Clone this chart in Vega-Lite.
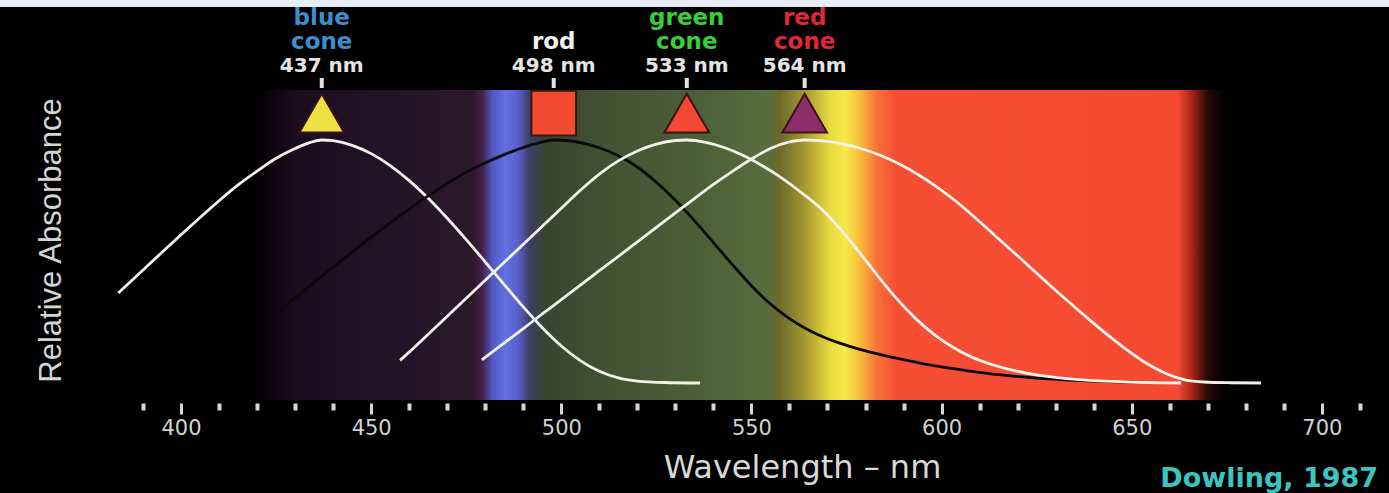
{
  "$schema": "https://vega.github.io/schema/vega-lite/v6.json",
  "width": 1283,
  "height": 310,
  "autosize": {"type": "none"},
  "padding": {"left": 105, "top": 90, "right": 1, "bottom": 93},
  "background": "#000000",
  "config": {"view": {"stroke": null}},
  "datasets": {
    "spectrum": [{"from_nm": 380, "to_nm": 717.4}],
    "header": [{"item": "page header"}],
    "curves": [
      {"receptor": "blue cone", "nm": 383.5, "absorbance": 0.37},
      {"receptor": "blue cone", "nm": 390, "absorbance": 0.465},
      {"receptor": "blue cone", "nm": 395, "absorbance": 0.538},
      {"receptor": "blue cone", "nm": 400, "absorbance": 0.61},
      {"receptor": "blue cone", "nm": 405, "absorbance": 0.681},
      {"receptor": "blue cone", "nm": 410, "absorbance": 0.75},
      {"receptor": "blue cone", "nm": 415, "absorbance": 0.815},
      {"receptor": "blue cone", "nm": 420, "absorbance": 0.872},
      {"receptor": "blue cone", "nm": 425, "absorbance": 0.925},
      {"receptor": "blue cone", "nm": 430, "absorbance": 0.965},
      {"receptor": "blue cone", "nm": 434, "absorbance": 0.99},
      {"receptor": "blue cone", "nm": 437, "absorbance": 1.0},
      {"receptor": "blue cone", "nm": 440, "absorbance": 0.997},
      {"receptor": "blue cone", "nm": 445, "absorbance": 0.978},
      {"receptor": "blue cone", "nm": 450, "absorbance": 0.944},
      {"receptor": "blue cone", "nm": 455, "absorbance": 0.895},
      {"receptor": "blue cone", "nm": 460, "absorbance": 0.833},
      {"receptor": "blue cone", "nm": 465, "absorbance": 0.76},
      {"receptor": "blue cone", "nm": 470, "absorbance": 0.678},
      {"receptor": "blue cone", "nm": 475, "absorbance": 0.59},
      {"receptor": "blue cone", "nm": 480, "absorbance": 0.498},
      {"receptor": "blue cone", "nm": 485, "absorbance": 0.405},
      {"receptor": "blue cone", "nm": 490, "absorbance": 0.313},
      {"receptor": "blue cone", "nm": 495, "absorbance": 0.227},
      {"receptor": "blue cone", "nm": 500, "absorbance": 0.152},
      {"receptor": "blue cone", "nm": 505, "absorbance": 0.092},
      {"receptor": "blue cone", "nm": 510, "absorbance": 0.048},
      {"receptor": "blue cone", "nm": 515, "absorbance": 0.021},
      {"receptor": "blue cone", "nm": 520, "absorbance": 0.008},
      {"receptor": "blue cone", "nm": 527, "absorbance": 0.002},
      {"receptor": "blue cone", "nm": 536.5, "absorbance": 0.0},
      {"receptor": "rod", "nm": 425.5, "absorbance": 0.29},
      {"receptor": "rod", "nm": 430, "absorbance": 0.35},
      {"receptor": "rod", "nm": 435, "absorbance": 0.414},
      {"receptor": "rod", "nm": 440, "absorbance": 0.477},
      {"receptor": "rod", "nm": 445, "absorbance": 0.539},
      {"receptor": "rod", "nm": 450, "absorbance": 0.6},
      {"receptor": "rod", "nm": 455, "absorbance": 0.659},
      {"receptor": "rod", "nm": 460, "absorbance": 0.716},
      {"receptor": "rod", "nm": 465, "absorbance": 0.77},
      {"receptor": "rod", "nm": 470, "absorbance": 0.821},
      {"receptor": "rod", "nm": 475, "absorbance": 0.867},
      {"receptor": "rod", "nm": 480, "absorbance": 0.906},
      {"receptor": "rod", "nm": 485, "absorbance": 0.94},
      {"receptor": "rod", "nm": 490, "absorbance": 0.969},
      {"receptor": "rod", "nm": 494, "absorbance": 0.988},
      {"receptor": "rod", "nm": 498, "absorbance": 1.0},
      {"receptor": "rod", "nm": 502, "absorbance": 0.997},
      {"receptor": "rod", "nm": 506, "absorbance": 0.986},
      {"receptor": "rod", "nm": 510, "absorbance": 0.968},
      {"receptor": "rod", "nm": 515, "absorbance": 0.935},
      {"receptor": "rod", "nm": 520, "absorbance": 0.889},
      {"receptor": "rod", "nm": 525, "absorbance": 0.826},
      {"receptor": "rod", "nm": 530, "absorbance": 0.752},
      {"receptor": "rod", "nm": 535, "absorbance": 0.668},
      {"receptor": "rod", "nm": 540, "absorbance": 0.578},
      {"receptor": "rod", "nm": 545, "absorbance": 0.487},
      {"receptor": "rod", "nm": 550, "absorbance": 0.4},
      {"receptor": "rod", "nm": 555, "absorbance": 0.325},
      {"receptor": "rod", "nm": 560, "absorbance": 0.265},
      {"receptor": "rod", "nm": 565, "absorbance": 0.218},
      {"receptor": "rod", "nm": 570, "absorbance": 0.182},
      {"receptor": "rod", "nm": 575, "absorbance": 0.155},
      {"receptor": "rod", "nm": 580, "absorbance": 0.132},
      {"receptor": "rod", "nm": 585, "absorbance": 0.113},
      {"receptor": "rod", "nm": 590, "absorbance": 0.096},
      {"receptor": "rod", "nm": 595, "absorbance": 0.08},
      {"receptor": "rod", "nm": 600, "absorbance": 0.066},
      {"receptor": "rod", "nm": 607, "absorbance": 0.05},
      {"receptor": "rod", "nm": 615, "absorbance": 0.034},
      {"receptor": "rod", "nm": 625, "absorbance": 0.02},
      {"receptor": "rod", "nm": 635, "absorbance": 0.011},
      {"receptor": "rod", "nm": 651, "absorbance": 0.003},
      {"receptor": "green cone", "nm": 457.6, "absorbance": 0.093},
      {"receptor": "green cone", "nm": 460, "absorbance": 0.127},
      {"receptor": "green cone", "nm": 465, "absorbance": 0.201},
      {"receptor": "green cone", "nm": 470, "absorbance": 0.275},
      {"receptor": "green cone", "nm": 475, "absorbance": 0.349},
      {"receptor": "green cone", "nm": 480, "absorbance": 0.423},
      {"receptor": "green cone", "nm": 485, "absorbance": 0.497},
      {"receptor": "green cone", "nm": 490, "absorbance": 0.571},
      {"receptor": "green cone", "nm": 495, "absorbance": 0.645},
      {"receptor": "green cone", "nm": 500, "absorbance": 0.719},
      {"receptor": "green cone", "nm": 505, "absorbance": 0.793},
      {"receptor": "green cone", "nm": 510, "absorbance": 0.86},
      {"receptor": "green cone", "nm": 515, "absorbance": 0.914},
      {"receptor": "green cone", "nm": 520, "absorbance": 0.955},
      {"receptor": "green cone", "nm": 525, "absorbance": 0.983},
      {"receptor": "green cone", "nm": 530, "absorbance": 0.998},
      {"receptor": "green cone", "nm": 533, "absorbance": 1.0},
      {"receptor": "green cone", "nm": 538, "absorbance": 0.99},
      {"receptor": "green cone", "nm": 543, "absorbance": 0.968},
      {"receptor": "green cone", "nm": 548, "absorbance": 0.935},
      {"receptor": "green cone", "nm": 553, "absorbance": 0.893},
      {"receptor": "green cone", "nm": 558, "absorbance": 0.843},
      {"receptor": "green cone", "nm": 563, "absorbance": 0.785},
      {"receptor": "green cone", "nm": 568, "absorbance": 0.722},
      {"receptor": "green cone", "nm": 573, "absorbance": 0.64},
      {"receptor": "green cone", "nm": 578, "absorbance": 0.545},
      {"receptor": "green cone", "nm": 583, "absorbance": 0.445},
      {"receptor": "green cone", "nm": 588, "absorbance": 0.35},
      {"receptor": "green cone", "nm": 593, "absorbance": 0.268},
      {"receptor": "green cone", "nm": 598, "absorbance": 0.2},
      {"receptor": "green cone", "nm": 603, "absorbance": 0.147},
      {"receptor": "green cone", "nm": 608, "absorbance": 0.106},
      {"receptor": "green cone", "nm": 613, "absorbance": 0.077},
      {"receptor": "green cone", "nm": 618, "absorbance": 0.055},
      {"receptor": "green cone", "nm": 623, "absorbance": 0.039},
      {"receptor": "green cone", "nm": 628, "absorbance": 0.027},
      {"receptor": "green cone", "nm": 633, "absorbance": 0.018},
      {"receptor": "green cone", "nm": 640, "absorbance": 0.01},
      {"receptor": "green cone", "nm": 648, "absorbance": 0.005},
      {"receptor": "green cone", "nm": 663, "absorbance": 0.0},
      {"receptor": "red cone", "nm": 479.1, "absorbance": 0.095},
      {"receptor": "red cone", "nm": 485, "absorbance": 0.165},
      {"receptor": "red cone", "nm": 490, "absorbance": 0.224},
      {"receptor": "red cone", "nm": 495, "absorbance": 0.284},
      {"receptor": "red cone", "nm": 500, "absorbance": 0.343},
      {"receptor": "red cone", "nm": 505, "absorbance": 0.403},
      {"receptor": "red cone", "nm": 510, "absorbance": 0.462},
      {"receptor": "red cone", "nm": 515, "absorbance": 0.521},
      {"receptor": "red cone", "nm": 520, "absorbance": 0.581},
      {"receptor": "red cone", "nm": 525, "absorbance": 0.64},
      {"receptor": "red cone", "nm": 530, "absorbance": 0.7},
      {"receptor": "red cone", "nm": 535, "absorbance": 0.759},
      {"receptor": "red cone", "nm": 540, "absorbance": 0.817},
      {"receptor": "red cone", "nm": 545, "absorbance": 0.871},
      {"receptor": "red cone", "nm": 550, "absorbance": 0.922},
      {"receptor": "red cone", "nm": 555, "absorbance": 0.965},
      {"receptor": "red cone", "nm": 560, "absorbance": 0.992},
      {"receptor": "red cone", "nm": 564, "absorbance": 1.0},
      {"receptor": "red cone", "nm": 569, "absorbance": 0.996},
      {"receptor": "red cone", "nm": 574, "absorbance": 0.984},
      {"receptor": "red cone", "nm": 579, "absorbance": 0.964},
      {"receptor": "red cone", "nm": 584, "absorbance": 0.936},
      {"receptor": "red cone", "nm": 589, "absorbance": 0.9},
      {"receptor": "red cone", "nm": 594, "absorbance": 0.856},
      {"receptor": "red cone", "nm": 599, "absorbance": 0.804},
      {"receptor": "red cone", "nm": 604, "absorbance": 0.745},
      {"receptor": "red cone", "nm": 609, "absorbance": 0.678},
      {"receptor": "red cone", "nm": 614, "absorbance": 0.607},
      {"receptor": "red cone", "nm": 619, "absorbance": 0.537},
      {"receptor": "red cone", "nm": 624, "absorbance": 0.466},
      {"receptor": "red cone", "nm": 629, "absorbance": 0.395},
      {"receptor": "red cone", "nm": 634, "absorbance": 0.326},
      {"receptor": "red cone", "nm": 639, "absorbance": 0.259},
      {"receptor": "red cone", "nm": 644, "absorbance": 0.194},
      {"receptor": "red cone", "nm": 649, "absorbance": 0.133},
      {"receptor": "red cone", "nm": 654, "absorbance": 0.08},
      {"receptor": "red cone", "nm": 659, "absorbance": 0.039},
      {"receptor": "red cone", "nm": 664, "absorbance": 0.013},
      {"receptor": "red cone", "nm": 669, "absorbance": 0.004},
      {"receptor": "red cone", "nm": 676, "absorbance": 0.001},
      {"receptor": "red cone", "nm": 684, "absorbance": 0.0}
    ],
    "receptors": [
      {"receptor": "blue cone", "peak": 437, "name": "blue\ncone", "label": "437 nm"},
      {"receptor": "rod", "peak": 498, "name": "\nrod", "label": "498 nm"},
      {"receptor": "green cone", "peak": 533, "name": "green\ncone", "label": "533 nm"},
      {"receptor": "red cone", "peak": 564, "name": "red\ncone", "label": "564 nm"}
    ],
    "credit": [{"text": "Dowling, 1987"}]
  },
  "layer": [
    {
      "data": {"name": "spectrum"},
      "mark": {
        "type": "rect",
        "fill": {
          "gradient": "linear", "x1": 0, "y1": 0, "x2": 1, "y2": 0,
          "stops": [
            {"offset": 0, "color": "#000000"},
            {"offset": 0.118, "color": "#000000"},
            {"offset": 0.146, "color": "#1a0c1e"},
            {"offset": 0.23, "color": "#241428"},
            {"offset": 0.286, "color": "#2b1729"},
            {"offset": 0.294, "color": "#43204a"},
            {"offset": 0.302, "color": "#5058c4"},
            {"offset": 0.312, "color": "#6470e2"},
            {"offset": 0.322, "color": "#5860cc"},
            {"offset": 0.331, "color": "#3c3e66"},
            {"offset": 0.343, "color": "#39442e"},
            {"offset": 0.401, "color": "#435434"},
            {"offset": 0.464, "color": "#4b6036"},
            {"offset": 0.514, "color": "#566e3e"},
            {"offset": 0.526, "color": "#6a6a2c"},
            {"offset": 0.546, "color": "#a89a30"},
            {"offset": 0.565, "color": "#e8da40"},
            {"offset": 0.577, "color": "#f6ea4a"},
            {"offset": 0.588, "color": "#f8be3c"},
            {"offset": 0.602, "color": "#f87038"},
            {"offset": 0.616, "color": "#f64e34"},
            {"offset": 0.836, "color": "#f44a32"},
            {"offset": 0.847, "color": "#a82618"},
            {"offset": 0.859, "color": "#2a0806"},
            {"offset": 0.873, "color": "#000000"},
            {"offset": 1, "color": "#000000"}
          ]
        }
      },
      "encoding": {
        "x": {"field": "from_nm", "type": "quantitative", "scale": {"domain": [380, 717.4], "nice": false, "zero": false}},
        "x2": {"field": "to_nm"},
        "y": {"datum": 1.2058, "type": "quantitative", "scale": {"domain": [-0.07, 1.2058], "nice": false, "zero": false}},
        "y2": {"datum": -0.07}
      }
    },
    {
      "data": {"name": "header"},
      "mark": {"type": "rect", "fill": "#e9eef4"},
      "encoding": {
        "x": {"datum": 340, "type": "quantitative", "scale": {"domain": [380, 717.4], "nice": false, "zero": false}},
        "x2": {"datum": 730},
        "y": {"datum": 1.6, "type": "quantitative", "scale": {"domain": [-0.07, 1.2058], "nice": false, "zero": false}},
        "y2": {"datum": 1.5474}
      }
    },
    {
      "data": {"name": "curves"},
      "mark": {"type": "line", "interpolate": "monotone", "strokeWidth": 2.8},
      "encoding": {
        "x": {
          "field": "nm", "type": "quantitative",
          "scale": {"domain": [380, 717.4], "nice": false, "zero": false},
          "axis": {
            "values": [390, 400, 410, 420, 430, 440, 450, 460, 470, 480, 490, 500, 510, 520, 530, 540, 550, 560, 570, 580, 590, 600, 610, 620, 630, 640, 650, 660, 670, 680, 690, 700, 710],
            "format": "d",
            "labelExpr": "datum.value % 50 === 0 ? datum.label : ''",
            "domain": false, "grid": false, "offset": 3,
            "tickColor": "#d6d6d6",
            "tickSize": {"condition": {"test": "datum.value % 50 === 0", "value": 11}, "value": 7},
            "tickWidth": {"condition": {"test": "datum.value % 50 === 0", "value": 3}, "value": 4},
            "labelFont": "DejaVu Sans", "labelFontSize": 21, "labelColor": "#d2d2d2", "labelPadding": 3,
            "labelOverlap": false, "labelFlush": false, "labelBound": false,
            "title": "Wavelength – nm",
            "titleFont": "DejaVu Sans", "titleFontSize": 32, "titleFontWeight": "normal", "titleColor": "#d8d8d8",
            "titleX": 697, "titleY": 74, "titleBaseline": "alphabetic", "titleAlign": "center"
          }
        },
        "y": {
          "field": "absorbance", "type": "quantitative",
          "scale": {"domain": [-0.07, 1.2058], "nice": false, "zero": false},
          "axis": {
            "title": "Relative Absorbance", "domain": false, "ticks": false, "labels": false, "grid": false,
            "titleFont": "Liberation Sans", "titleFontSize": 31, "titleFontWeight": "normal", "titleColor": "#d4d4d4",
            "titleX": -45, "titleY": 150, "titleBaseline": "alphabetic", "titleAlign": "center", "titleAngle": 270
          }
        },
        "stroke": {
          "field": "receptor", "type": "nominal",
          "scale": {"domain": ["blue cone", "rod", "green cone", "red cone"], "range": ["#f2f2ea", "#0a0a0a", "#f2f2ea", "#f2f2ea"]},
          "legend": null
        }
      }
    },
    {
      "data": {"name": "receptors"},
      "mark": {"type": "rule", "stroke": "#e2e2e2", "strokeWidth": 4},
      "encoding": {
        "x": {"field": "peak", "type": "quantitative", "scale": {"domain": [380, 717.4], "nice": false, "zero": false}},
        "y": {"datum": 1.2552, "type": "quantitative", "scale": {"domain": [-0.07, 1.2058], "nice": false, "zero": false}},
        "y2": {"datum": 1.214}
      }
    },
    {
      "data": {"name": "receptors"},
      "mark": {"type": "point", "filled": true, "opacity": 1, "size": 2000, "stroke": "#3a1410", "strokeWidth": 2},
      "encoding": {
        "x": {"field": "peak", "type": "quantitative", "scale": {"domain": [380, 717.4], "nice": false, "zero": false}},
        "y": {"datum": 1.111, "type": "quantitative", "scale": {"domain": [-0.07, 1.2058], "nice": false, "zero": false}},
        "shape": {
          "field": "receptor", "type": "nominal",
          "scale": {"domain": ["blue cone", "rod", "green cone", "red cone"], "range": ["triangle-up", "square", "triangle-up", "triangle-up"]},
          "legend": null
        },
        "fill": {
          "field": "receptor", "type": "nominal",
          "scale": {"domain": ["blue cone", "rod", "green cone", "red cone"], "range": ["#f0df45", "#f24a2e", "#f34836", "#8b2e6b"]},
          "legend": null
        }
      }
    },
    {
      "data": {"name": "receptors"},
      "mark": {"type": "text", "font": "DejaVu Sans", "fontSize": 20, "fontWeight": "bold", "fill": "#e4e4e4", "align": "center", "baseline": "alphabetic"},
      "encoding": {
        "x": {"field": "peak", "type": "quantitative", "scale": {"domain": [380, 717.4], "nice": false, "zero": false}},
        "y": {"datum": 1.28, "type": "quantitative", "scale": {"domain": [-0.07, 1.2058], "nice": false, "zero": false}},
        "text": {"field": "label"}
      }
    },
    {
      "data": {"name": "receptors"},
      "mark": {"type": "text", "font": "DejaVu Sans", "fontSize": 23, "fontWeight": "bold", "align": "center", "baseline": "alphabetic", "lineBreak": "\n", "lineHeight": 24},
      "encoding": {
        "x": {"field": "peak", "type": "quantitative", "scale": {"domain": [380, 717.4], "nice": false, "zero": false}},
        "y": {"datum": 1.4713, "type": "quantitative", "scale": {"domain": [-0.07, 1.2058], "nice": false, "zero": false}},
        "text": {"field": "name"},
        "color": {
          "field": "receptor", "type": "nominal",
          "scale": {"domain": ["blue cone", "rod", "green cone", "red cone"], "range": ["#3d8ecc", "#f2f2f2", "#36d03a", "#e3253a"]},
          "legend": null
        }
      }
    },
    {
      "data": {"name": "credit"},
      "mark": {"type": "text", "font": "DejaVu Sans", "fontSize": 27, "fontWeight": "bold", "fill": "#3cc4c0", "align": "right", "baseline": "alphabetic"},
      "encoding": {
        "x": {"datum": 714.8, "type": "quantitative", "scale": {"domain": [380, 717.4], "nice": false, "zero": false}},
        "y": {"datum": -0.428, "type": "quantitative", "scale": {"domain": [-0.07, 1.2058], "nice": false, "zero": false}},
        "text": {"field": "text"}
      }
    }
  ]
}
